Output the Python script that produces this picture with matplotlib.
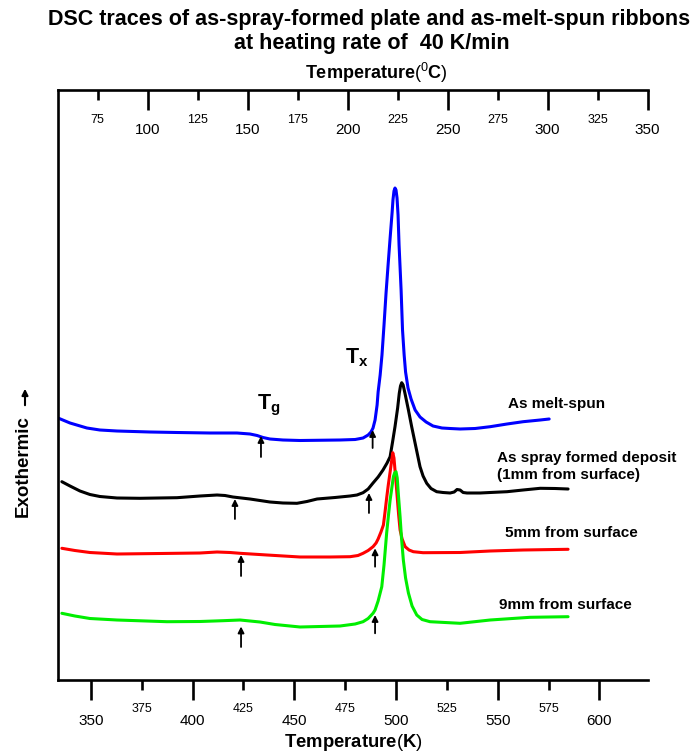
import matplotlib
matplotlib.use("Agg")
import matplotlib.pyplot as plt
from matplotlib.patches import FancyArrowPatch
from matplotlib.ticker import FixedLocator

plt.rcParams['font.family'] = ['Liberation Sans', 'DejaVu Sans']
plt.rcParams['mathtext.fontset'] = 'custom'
plt.rcParams['mathtext.rm'] = 'Liberation Sans'
plt.rcParams['mathtext.bf'] = 'Liberation Sans:bold'
plt.rcParams['mathtext.it'] = 'Liberation Sans:italic'

# ── Data (x in K, y in arbitrary exotherm units) ──────────────────────────────
melt_T = [333.8, 339.7, 348.0, 354.4, 362.8, 379.0, 392.3, 408.5, 421.8, 428.2,
          431.7, 434.6, 438.0, 444.4, 452.8, 472.5, 479.9, 483.8, 486.3, 487.7,
          488.7, 489.7, 490.7, 491.2, 492.2, 493.1, 494.1, 495.1, 496.1, 497.1,
          498.1, 498.5, 499.0, 499.5, 500.0, 500.5, 501.0, 501.5, 502.5, 503.2,
          504.0, 504.7, 505.9, 507.4, 509.4, 511.8, 514.8, 518.2, 522.6, 526.6,
          531.5, 538.9, 546.3, 554.6, 562.5, 570.9, 575.3]
melt_y = [262, 257, 252, 250, 249, 248, 247.5, 247, 247, 246,
          244.5, 242.5, 241, 240, 239.5, 240, 240.5, 242, 245, 248,
          252, 260, 275, 288, 305, 325, 355, 387, 415, 442,
          468, 480, 489, 492, 490, 482, 465, 435, 390, 350,
          325, 308, 292, 281, 270, 263, 258, 254, 252, 251.5,
          251, 251.5, 253.3, 256, 258.3, 260, 261]

spray_T = [335.7, 339.7, 344.6, 349.5, 354.4, 362.8, 374.1, 392.3, 403.6, 412.0,
           415.9, 419.8, 428.2, 438.0, 444.4, 451.3, 456.2, 461.2, 470.0, 477.4,
           480.8, 483.8, 486.3, 488.7, 491.2, 493.6, 495.6, 497.1, 498.3, 499.5,
           500.8, 501.6, 502.2, 502.8, 503.5, 504.4, 506.1, 507.7, 509.4, 511.8,
           513.3, 515.1, 517.2, 520.0, 523.1, 526.6, 528.6, 530.0, 531.5, 533.0,
           534.9, 541.3, 546.3, 554.6, 562.5, 570.9, 578.2, 584.6]
spray_y = [198.3, 194, 189, 185.5, 183.5, 182, 181.7, 182.3, 184, 185,
           184.5, 183, 181, 178, 177, 176.7, 178.5, 181, 182.5, 184,
           185, 187.3, 191, 197, 203, 210, 217, 223.3, 238, 253.3,
           272, 286.7, 294, 297.3, 295, 286.7, 270, 253.3, 236.7, 213.3,
           204, 196.7, 191.5, 188.3, 187.5, 187, 188, 190.5, 190, 187.5,
           187, 187, 187.5, 188.3, 190, 191.7, 191.5, 191]

mm5_T = [335.7, 342.1, 349.5, 362.8, 383.9, 403.6, 412.0, 418.4, 423.3, 436.6,
         452.8, 467.6, 477.4, 481.3, 483.8, 486.3, 488.7, 490.2, 491.2, 492.6,
         493.8, 494.6, 495.4, 496.2, 497.1, 497.9, 498.4, 499.0, 499.5, 500.0,
         500.7, 501.3, 502.0, 503.0, 504.5, 506.4, 508.5, 513.3, 531.5, 546.3,
         562.5, 584.6]
mm5_y = [131.7, 129.5, 127.5, 126, 126.5, 127, 128, 127.5, 126.7, 125,
         123, 123, 123.3, 124.5, 126.7, 129.5, 133.3, 137, 141, 148,
         155, 168, 182, 195, 208, 220, 227.3, 222, 210, 198,
         180, 165, 150, 141, 133.3, 130, 128.3, 127.3, 127.5, 129,
         130, 130.7]

mm9_T = [335.7, 342.1, 349.5, 362.8, 387.4, 403.6, 414.9, 423.3, 433.1, 440.5,
         447.9, 452.8, 472.5, 479.9, 483.8, 486.3, 488.7, 489.7, 491.2, 493.0,
         494.1, 495.4, 496.3, 497.1, 497.8, 498.7, 499.3, 500.0, 500.6, 501.1,
         502.0, 502.7, 503.6, 504.7, 506.1, 507.9, 510.2, 512.8, 516.7, 531.5,
         546.3, 565.9, 584.6]
mm9_y = [66.7, 64, 61.5, 60, 58.3, 58.5, 59.3, 60, 58, 55.5,
         54, 53, 54, 56, 58.3, 61.5, 66.7, 70, 79, 93.3,
         115, 147, 165, 180, 190, 203.3, 207, 208.3, 202, 187,
         163.3, 142, 120, 102, 87, 74, 65, 60.5, 58.3, 56.7,
         60, 62.7, 63.3]

series = [
    (melt_T, melt_y, '#0000ff'),
    (spray_T, spray_y, '#000000'),
    (mm5_T, mm5_y, '#ff0000'),
    (mm9_T, mm9_y, '#00ee00'),
]

# Tg / Tx arrows: (T, tip y, tail y)
arrows = [
    (433.6, 244, 223), (488.5, 250, 232),
    (420.8, 181, 161), (486.7, 187, 167),
    (423.8, 125, 104), (489.7, 131.7, 113.3),
    (423.8, 53.5, 33), (489.7, 65, 46.7),
]

labels = [
    (555.1, 276, "As melt-spun"),
    (549.6, 213.5, "As spray formed deposit\n(1mm from surface)"),
    (553.6, 147.3, "5mm from surface"),
    (550.7, 75, "9mm from surface"),
]

K_major = [350, 400, 450, 500, 550, 600]
K_minor = [375, 425, 475, 525, 575]
C_major = [100, 150, 200, 250, 300, 350]
C_minor = [75, 125, 175, 225, 275, 325]

# ── Plot ──────────────────────────────────────────────────────────────────────
fig = plt.figure(figsize=(6.96, 7.54), dpi=100)
ax = fig.add_axes([58/696, 1 - 680/754, 590/696, 590/754])

for T, y, c in series:
    ax.plot(T, y, color=c, lw=2.2, solid_joinstyle='round', solid_capstyle='round')

for T, tip, tail in arrows:
    ax.annotate('', xy=(T, tip), xytext=(T, tail),
                arrowprops=dict(arrowstyle='-|>', color='k', lw=1.3,
                                mutation_scale=9, shrinkA=0, shrinkB=0))

ax.text(431.7, 275, r"$\mathbf{T_g}$", fontsize=15.5, ha='left', va='center')
ax.text(474.9, 322, r"$\mathbf{T_x}$", fontsize=15.5, ha='left', va='center')

for T, y, s in labels:
    ax.text(T, y, s, fontsize=11, fontweight='bold', ha='left', va='center',
            linespacing=1.25)

ax.set_xlim(333.8, 623.9)
ax.set_ylim(0, 590)
ax.set_yticks([])
for side in ['right', 'top']:
    ax.spines[side].set_visible(False)
for side in ['left', 'bottom']:
    ax.spines[side].set_linewidth(1.9)

ax.xaxis.set_major_locator(FixedLocator(K_major))
ax.xaxis.set_minor_locator(FixedLocator(K_minor))
ax.set_xticklabels([str(v) for v in K_major])
ax.set_xticklabels([str(v) for v in K_minor], minor=True)
ax.tick_params(axis='x', which='major', direction='out', length=14.4, width=1.9,
               labelsize=11, pad=10)
ax.tick_params(axis='x', which='minor', direction='out', length=7.2, width=1.9,
               labelsize=9, pad=9.5)
ax.set_xlabel(r"$\mathbf{Temperature}(\mathbf{K})$", fontsize=13.3, labelpad=3)

# top axis in Celsius
axt = ax.twiny()
axt.set_xlim(55.15, 350.15)
for side in ['left', 'right', 'bottom']:
    axt.spines[side].set_visible(False)
axt.spines['top'].set_linewidth(1.9)
axt.xaxis.set_major_locator(FixedLocator(C_major))
axt.xaxis.set_minor_locator(FixedLocator(C_minor))
axt.set_xticklabels([str(v) for v in C_major])
axt.set_xticklabels([str(v) for v in C_minor], minor=True)
axt.tick_params(axis='x', which='major', direction='in', length=14.4, width=1.9,
                labelsize=11, pad=-34)
axt.tick_params(axis='x', which='minor', direction='in', length=7.2, width=1.9,
                labelsize=9, pad=-26)

fig.text(376/696, 1 - 73/754, r"$\mathbf{Temperature}(^{0}\mathbf{C})$",
         fontsize=13, ha='center', va='center')
fig.text(369/696, 1 - 20/754, "DSC traces of as-spray-formed plate and as-melt-spun ribbons",
         fontsize=15.5, fontweight='bold', ha='center', va='center')
fig.text(372/696, 1 - 44/754, "at heating rate of  40 K/min",
         fontsize=15.5, fontweight='bold', ha='center', va='center')
fig.text(23.5/696, 1 - 466/754, "Exothermic", rotation=90, fontsize=13.5,
         fontweight='bold', ha='center', va='center')
fig.add_artist(FancyArrowPatch(
    (25/696, 1 - 408/754), (25/696, 1 - 386/754), transform=fig.transFigure,
    arrowstyle='-|>', mutation_scale=9, lw=1.5, color='k'))

fig.savefig("out.png", dpi=100)
